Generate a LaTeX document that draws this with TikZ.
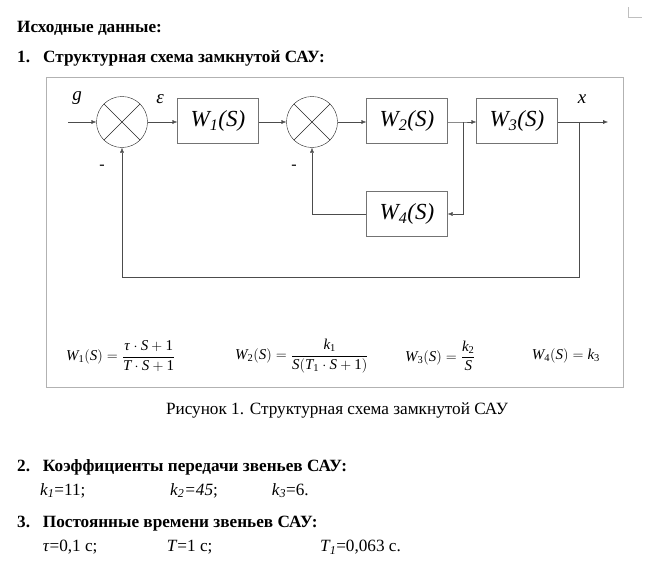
\documentclass[tikz,border=0pt]{standalone}
\usepackage{mathspec}
\setmainfont{Liberation Serif}
\setmathsfont(Digits,Latin,Greek){Liberation Serif}
\usetikzlibrary{
    arrows.meta,
    calc,
    positioning
}
\tikzset{
    block/.style={draw=black!55, minimum width=81pt, minimum height=45pt, inner sep=0pt,
        font=\itshape\fontsize{23}{25}\selectfont},
    sumnode/.style={circle, draw=black!85, minimum size=51pt, inner sep=0pt,
        path picture={\draw[black!85]
            (path picture bounding box.north west) -- (path picture bounding box.south east)
            (path picture bounding box.north east) -- (path picture bounding box.south west);}},
    signal/.style={-{Latex[length=5pt,width=4pt]}, black!70},
    frame/.style={draw=black!30},
    corner/.style={draw=black!25},
    heading/.style={anchor=base west, inner sep=0pt, font=\bfseries\fontsize{17.2}{19}\selectfont},
    note/.style={anchor=base west, inner sep=0pt, font=\fontsize{17.2}{19}\selectfont},
    formula/.style={anchor=west, inner sep=0pt, font=\fontsize{15}{17}\selectfont},
    siglabel/.style={inner sep=0pt, font=\itshape\fontsize{19}{21}\selectfont},
    sign/.style={inner sep=0pt, font=\fontsize{16}{18}\selectfont}
}

\begin{document}
\begin{tikzpicture}[x=1pt, y=-1pt]
    \useasboundingbox (0,0) rectangle (654,570);
    \draw[corner] (627.7,7) -- (627.7,17) -- (641.7,17);

    % headings
    \node[heading] (title) at (17,32.5) {Исходные данные:};
    \node[heading] (n1) at (17,62) {1.};
    \node[heading] (h1) at (43,62) {Структурная схема замкнутой САУ:};

    % block diagram
    \draw[frame] (45.7,76.7) rectangle (623.3,387.3);
    \node[sumnode] (sum1) at (122,122) {};
    \node[sumnode] (sum2) at (312,122) {};
    \node[block] (w1) at (218,121) {W\textsubscript{1}(S)};
    \node[block] (w2) at (407,121) {W\textsubscript{2}(S)};
    \node[block] (w3) at (517,121) {W\textsubscript{3}(S)};
    \node[block] (w4) at (407,214) {W\textsubscript{4}(S)};
    \coordinate (in) at (68,122);
    \coordinate (out) at (608,122);
    \coordinate (j1) at (463,122);
    \coordinate (j2) at (579,122);
    \coordinate (fb) at (579,277);

    \draw[signal] (in) -- (sum1.west);
    \draw[signal] (sum1.east) -- (sum1.east -| w1.west);
    \draw[signal] (w1.east |- sum2.west) -- (sum2.west);
    \draw[signal] (sum2.east) -- (sum2.east -| w2.west);
    \draw[signal] (w2.east |- j1) -- (j1) -- (j1 -| w3.west);
    \draw[signal] (w3.east |- j2) -- (out);
    \draw[signal] (j1) |- (w4.east);
    \draw[signal] (w4.west) -| (sum2.south);
    \draw[signal] (j2) -- (fb) -| (sum1.south);

    \node[siglabel] (g) at (77,98) {g};
    \node[siglabel] (eps) at (160,99) {ε};
    \node[siglabel] (x) at (582,99) {x};
    \node[sign] (m1) at (102,167) {-};
    \node[sign] (m2) at (294,167) {-};

    \node[formula] (f1) at (66,356) {$\displaystyle W_1(S)=\frac{\tau\cdot S+1}{T\cdot S+1}$};
    \node[formula] (f2) at (235,356) {$\displaystyle W_2(S)=\frac{k_1}{S(T_1\cdot S+1)}$};
    \node[formula] (f3) at (405,356) {$\displaystyle W_3(S)=\frac{k_2}{S}$};
    \node[formula] (f4) at (531.7,356) {$\displaystyle W_4(S)=k_3$};

    \node[note, anchor=base] (caption) at (337,414.5) {Рисунок 1. Структурная схема замкнутой САУ};

    % coefficients
    \node[heading] (n2) at (17,471) {2.};
    \node[heading] (h2) at (42.7,471) {Коэффициенты передачи звеньев САУ:};
    \node[note] (k1) at (40,495) {\textit{k\textsubscript{1}}=11;};
    \node[note] (k2) at (170,495) {\textit{k\textsubscript{2}=45};};
    \node[note] (k3) at (271.7,495) {\textit{k\textsubscript{3}}=6.};

    % time constants
    \node[heading] (n3) at (17,527) {3.};
    \node[heading] (h3) at (42.7,527) {Постоянные времени звеньев САУ:};
    \node[note] (tau) at (42.7,551.5) {\textit{τ}=0,1 с;};
    \node[note] (tt) at (166.7,551.5) {\textit{T}=1 с;};
    \node[note] (t1) at (320,551.5) {\textit{T\textsubscript{1}}=0,063 с.};
\end{tikzpicture}
\end{document}
